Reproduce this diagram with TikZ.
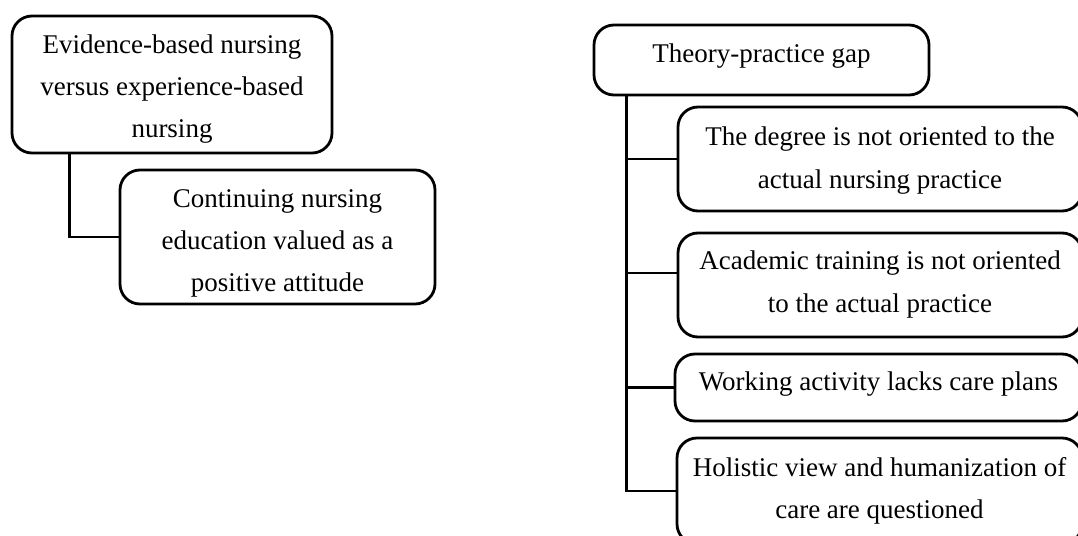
\documentclass[tikz,border=0pt]{standalone}
\usepackage{fontspec}
\setmainfont{Liberation Serif}
\usetikzlibrary{calc}
\tikzset{
  box/.style={draw, line width=2.8pt, rounded corners=20pt, align=center,
    font=\fontsize{27}{42}\selectfont, inner sep=0pt},
  link/.style={draw, line width=2.8pt}
}
\begin{document}
\begin{tikzpicture}[x=1pt,y=-1pt]
\useasboundingbox (0,0) rectangle (1078,535);
\clip (0,0) rectangle (1078,535);
% left group
\node[box, minimum width=320, minimum height=137] (A) at (172,84.5)
  {\rule{0pt}{27pt}Evidence-based nursing\\versus experience-based\\nursing};
\node[box, minimum width=315, minimum height=134] (B) at (277.5,237)
  {\rule{0pt}{31pt}Continuing nursing\\education valued as a\\positive attitude};
\draw[link] ($(A.south west)+(59,0)$) |- (B.west);
% right group
\node[box, minimum width=335, minimum height=70, text depth=14pt] (R) at (761.5,60)
  {Theory-practice gap};
\node[box, minimum width=404, minimum height=104, font=\fontsize{27}{43}\selectfont] (C1) at (880,159)
  {\rule{0pt}{22pt}The degree is not oriented to the\\actual nursing practice};
\node[box, minimum width=404, minimum height=104, font=\fontsize{27}{43}\selectfont] (C2) at (880,285)
  {Academic training is not oriented\\to the actual practice};
\node[box, minimum width=407, minimum height=67, text depth=12pt] (C3) at (878.5,387.5)
  {Working activity lacks care plans};
\node[box, minimum width=405, minimum height=106] (C4) at (879.5,491)
  {Holistic view and humanization of\\care are questioned};
\coordinate (T) at ($(R.south west)+(34,0)$);
\draw[link] (T) |- (C4.west);
\draw[link] (T) |- (C1.west);
\draw[link] ($(C2.west)+(0,-12)$) -| (T);
\draw[link] (T) |- (C3.west);
\end{tikzpicture}
\end{document}
